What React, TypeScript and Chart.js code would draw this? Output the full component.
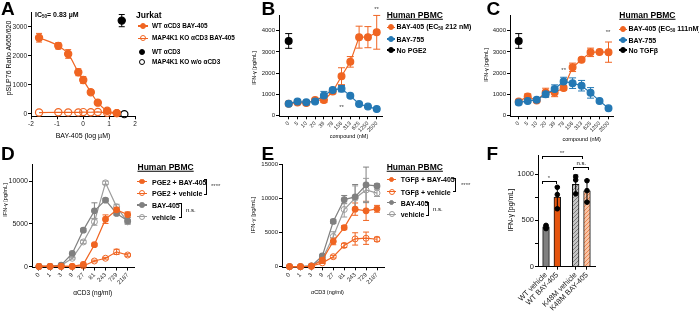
import React, { useEffect, useRef } from 'react';
import { Chart, registerables } from 'chart.js';

// ---------------- data ----------------
// Panel A: Jurkat, pSLP76 vs BAY-405 (log µM)
const A_X_TICKS = [-2, -1, 0, 1, 2];
const A_Y_TICKS = [0, 1000, 2000, 3000];
const A_WT_X = [-1.69, -0.95, -0.57, -0.18, 0.01, 0.3, 0.57, 0.93, 1.3];
const A_WT_Y = [2630, 2350, 2070, 1440, 1170, 750, 390, 110, 30];
const A_WT_ERR = [150, 110, 150, 120, 120, 80, 40, 20, 10];
const A_KO_X = [-1.69, -0.95, -0.57, -0.18, 0.01, 0.3, 0.57, 0.93, 1.3];
const A_KO_Y = [50, 60, 55, 55, 65, 60, 70, 40, 30];
const A_WTCTRL_X = [1.49];
const A_WTCTRL_Y = [3220];
const A_WTCTRL_ERR = [210];
const A_KONOSTIM_X = [1.59];
const A_KONOSTIM_Y = [-5];

// Panel B / C: IFN-γ vs compound (nM)
const BC_X_LABELS = ['0', '5', '10', '20', '39', '78', '156', '313', '625', '1250', '2500'];
const BC_Y_TICKS = [0, 1000, 2000, 3000, 4000];
const B_BAY405 = [550, 600, 580, 720, 720, 1120, 1850, 2530, 3700, 3700, 3930];
const B_BAY405_ERR = [60, 80, 100, 80, 120, 100, 400, 250, 520, 500, 800];
const B_BAY755 = [550, 650, 610, 650, 930, 1200, 1260, 920, 530, 410, 290];
const B_BAY755_ERR = [50, 80, 60, 60, 200, 80, 150, 60, 40, 40, 30];
const B_NOPGE2 = [3520];
const B_NOPGE2_ERR = [350];
const C_BAY405 = [650, 890, 700, 1080, 1080, 1290, 2270, 2630, 2980, 3000, 2990];
const C_BAY405_ERR = [80, 120, 80, 200, 200, 100, 200, 80, 200, 60, 480];
const C_BAY755 = [600, 680, 730, 1000, 1240, 1600, 1520, 1400, 1060, 680, 330];
const C_BAY755_ERR = [100, 60, 60, 150, 200, 200, 250, 250, 250, 60, 40];
const C_NOTGF = [3520];
const C_NOTGF_ERR = [350];

// Panel D / E: IFN-γ vs αCD3 (ng/ml)
const DE_X_LABELS = ['0', '1', '3', '9', '27', '81', '243', '729', '2187'];
const D_Y_TICKS = [0, 5000, 10000];
const D_PGE2_BAY = [50, 50, 50, 50, 280, 2580, 5560, 6650, 6100];
const D_PGE2_BAY_ERR = [0, 0, 0, 0, 80, 150, 500, 300, 300];
const D_PGE2_VEH = [50, 50, 50, 50, 100, 680, 1000, 1750, 1380];
const D_PGE2_VEH_ERR = [0, 0, 0, 0, 0, 100, 100, 300, 150];
const D_BAY = [50, 50, 200, 1560, 4280, 6530, 7780, 6230, 5370];
const D_BAY_ERR = [0, 0, 0, 100, 200, 940, 200, 200, 400];
const D_VEH = [50, 50, 150, 1000, 2900, 5250, 9800, 7000, 5250];
const D_VEH_ERR = [0, 0, 0, 100, 200, 400, 200, 300, 200];
const E_Y_TICKS = [0, 5000, 10000, 15000];
const E_TGF_BAY = [0, 0, 50, 950, 3700, 5700, 8400, 8150, 8450];
const E_TGF_BAY_ERR = [0, 0, 0, 100, 500, 300, 900, 1400, 500];
const E_TGF_VEH = [0, 0, 50, 550, 1450, 3100, 4050, 4150, 4000];
const E_TGF_VEH_ERR = [0, 0, 0, 100, 200, 300, 900, 900, 300];
const E_BAY = [0, 0, 100, 1550, 6600, 9800, 10200, 11950, 11800];
const E_BAY_ERR = [0, 0, 0, 200, 300, 600, 1800, 2600, 300];
const E_VEH = [0, 0, 100, 1100, 4400, 8350, 10000, 11200, 10750];
const E_VEH_ERR = [0, 0, 0, 200, 700, 1100, 1800, 1700, 500];

// Panel F: bars
const F_LABELS = ['WT vehicle', 'WT BAY-405', 'K48M vehicle', 'K48M BAY-405'];
const F_MEAN = [430, 750, 890, 820];
const F_SD = [20, 115, 100, 115];
const F_REPS = [
  [411, 446, 428],
  [857, 778, 625],
  [936, 971, 786],
  [928, 821, 696],
];
const F_Y_TICKS = [0, 250, 500, 750, 1000];

// ---------------- styles / layout ----------------
const ORANGE = '#F06522';
const ORANGE_D = '#E5540E';
const BLUE = '#2478B4';
const GRAY = '#808080';
const LGRAY = '#9C9C9C';
const FONT = "'Liberation Sans', Arial, Helvetica, sans-serif";
// x slots for the bar groups in F (layout, gap between WT and K48M pairs)
const F_SLOTS = [0, 1, 2.63, 3.63];

type Box = { x: number; y: number; w: number; h: number; l: number; t: number; r: number; b: number };
const A_BOX: Box = { x: 0, y: 0, w: 142, h: 132, l: 31, t: 12.5, r: 135, b: 116.3 };
const B_BOX: Box = { x: 255, y: 0, w: 130, h: 140, l: 279, t: 15, r: 382, b: 116.3 };
const C_BOX: Box = { x: 486, y: 0, w: 130, h: 140, l: 510, t: 15, r: 613, b: 116.3 };
const D_BOX: Box = { x: 0, y: 150, w: 137, h: 140, l: 32, t: 164, r: 134, b: 267.5 };
const E_BOX: Box = { x: 250, y: 150, w: 137, h: 140, l: 282, t: 164, r: 384, b: 267.3 };
const F_BOX: Box = { x: 505, y: 150, w: 93, h: 163, l: 538, t: 155, r: 595, b: 266.7 };

// ---------------- chart helpers ----------------
function drawErrors(chart: any) {
  const ctx = chart.ctx;
  const ys = chart.scales.y;
  chart.data.datasets.forEach((ds: any, i: number) => {
    const errs = ds.errors;
    if (!errs) return;
    const meta = chart.getDatasetMeta(i);
    ctx.save();
    ctx.strokeStyle = ds.errColor || ds.borderColor;
    ctx.lineWidth = 1;
    const cap = ds.cap ?? 3;
    meta.data.forEach((el: any, j: number) => {
      const e = errs[j];
      if (!e) return;
      const d = ds.data[j];
      const v = typeof d === 'number' ? d : d.y;
      const x = el.x;
      const y1 = ys.getPixelForValue(v + e);
      const y2 = ys.getPixelForValue(v - e);
      ctx.beginPath();
      ctx.moveTo(x, y1); ctx.lineTo(x, y2);
      ctx.moveTo(x - cap, y1); ctx.lineTo(x + cap, y1);
      ctx.moveTo(x - cap, y2); ctx.lineTo(x + cap, y2);
      ctx.stroke();
    });
    ctx.restore();
  });
}
const errorBars = {
  id: 'errbars',
  beforeDatasetsDraw(chart: any, _a: any, opts: any) { if (!opts || !opts.after) drawErrors(chart); },
  afterDatasetsDraw(chart: any, _a: any, opts: any) { if (opts && opts.after) drawErrors(chart); },
};
Chart.register(...registerables, errorBars);
Chart.defaults.font.family = FONT;

type AxisSpec = { min: number; max: number; ticks: number[]; label: (v: number) => string; size: number; rot?: number };

function axis(spec: AxisSpec, horizontal: boolean, box: Box) {
  return {
    type: 'linear',
    min: spec.min,
    max: spec.max,
    offset: false,
    afterBuildTicks: (s: any) => { s.ticks = spec.ticks.map((v) => ({ value: v })); },
    afterFit: (s: any) => {
      if (horizontal) s.height = box.y + box.h - box.b;
      else s.width = box.l - box.x;
    },
    ticks: {
      callback: (v: any) => spec.label(Number(v)),
      font: { size: spec.size, family: FONT },
      color: '#222',
      padding: 1,
      autoSkip: false,
      minRotation: spec.rot || 0,
      maxRotation: spec.rot || 0,
    },
    grid: { display: true, drawOnChartArea: false, drawTicks: true, tickLength: 3, color: '#000', lineWidth: 1, offset: false },
    border: { display: true, color: '#000', width: 1 },
  };
}

function opts(box: Box, x: AxisSpec, y: AxisSpec, after = false) {
  return {
    responsive: false,
    maintainAspectRatio: false,
    animation: false,
    events: [],
    layout: { autoPadding: false, padding: { left: 0, top: box.t - box.y, right: box.x + box.w - box.r, bottom: 0 } },
    plugins: { legend: { display: false }, tooltip: { enabled: false }, errbars: { after } },
    scales: { x: axis(x, true, box), y: axis(y, false, box) },
  };
}

function ds(xs: number[], ys: number[], o: any) {
  return {
    data: xs.map((x, i) => ({ x, y: ys[i] })),
    borderColor: o.color,
    backgroundColor: o.color,
    pointBackgroundColor: o.open ? 'rgba(255,255,255,0)' : o.color,
    pointBorderColor: o.color,
    pointBorderWidth: o.pbw ?? 1.2,
    pointRadius: o.r ?? 3,
    pointHoverRadius: o.r ?? 3,
    borderWidth: o.bw ?? 1.2,
    showLine: !o.noLine,
    tension: o.curve ? 0.4 : 0,
    cubicInterpolationMode: o.curve ? 'monotone' : 'default',
    clip: false,
    fill: false,
    errors: o.err,
    cap: o.cap ?? 3,
    errColor: o.errColor,
  };
}
const idx = (arr: any[]) => arr.map((_, i) => i);
const num = (v: number) => String(v);

function hatch(bg: string, fg: string) {
  const c = document.createElement('canvas');
  c.width = 4; c.height = 4;
  const g = c.getContext('2d')!;
  g.fillStyle = bg; g.fillRect(0, 0, 4, 4);
  g.strokeStyle = fg; g.lineWidth = 1;
  g.beginPath(); g.moveTo(0, 4); g.lineTo(4, 0); g.moveTo(-1, 1); g.lineTo(1, -1); g.moveTo(3, 5); g.lineTo(5, 3); g.stroke();
  return g.createPattern(c, 'repeat');
}

// ---------------- chart configs ----------------
const makeA = () => ({
  type: 'line',
  data: {
    datasets: [
      ds(A_WT_X, A_WT_Y, { color: ORANGE, r: 3.6, err: A_WT_ERR, curve: true }),
      ds(A_KO_X, A_KO_Y, { color: ORANGE, r: 3.6, open: true }),
      ds(A_WTCTRL_X, A_WTCTRL_Y, { color: '#000', r: 3.6, err: A_WTCTRL_ERR, noLine: true }),
      ds(A_KONOSTIM_X, A_KONOSTIM_Y, { color: '#000', r: 3.6, open: true, noLine: true }),
    ],
  },
  options: opts(
    A_BOX,
    { min: -2, max: 2, ticks: A_X_TICKS, label: num, size: 6.5 },
    { min: -80, max: 3500, ticks: A_Y_TICKS, label: num, size: 6.5 },
  ),
});

const makeBC = (box: Box, bay405: number[], e405: number[], bay755: number[], e755: number[], ctrl: number[], ectrl: number[], xmin: number, xmax: number) => ({
  type: 'line',
  data: {
    datasets: [
      ds(idx(BC_X_LABELS), bay755, { color: BLUE, r: 3.4, err: e755, cap: 3.5 }),
      ds(idx(BC_X_LABELS), bay405, { color: ORANGE, r: 3.4, err: e405, cap: 3.5 }),
      ds([0], ctrl, { color: '#000', r: 3.4, err: ectrl, noLine: true, cap: 3.5 }),
    ],
  },
  options: opts(
    box,
    { min: xmin, max: xmax, ticks: idx(BC_X_LABELS), label: (v) => BC_X_LABELS[v], size: 5.5, rot: 45 },
    { min: -50, max: 4750, ticks: BC_Y_TICKS, label: num, size: 6 },
  ),
});

const makeDE = (box: Box, s1: number[], e1: number[], s2: number[], e2: number[], s3: number[], e3: number[], s4: number[], e4: number[], xmin: number, xmax: number, ymin: number, ymax: number, yticks: number[], ysize: number) => ({
  type: 'line',
  data: {
    datasets: [
      ds(idx(DE_X_LABELS), s1, { color: ORANGE, r: 2.8, err: e1 }),
      ds(idx(DE_X_LABELS), s2, { color: ORANGE, r: 3, open: true, pbw: 1, err: e2 }),
      ds(idx(DE_X_LABELS), s3, { color: GRAY, r: 2.8, err: e3 }),
      ds(idx(DE_X_LABELS), s4, { color: LGRAY, r: 3, open: true, pbw: 1, err: e4 }),
    ],
  },
  options: opts(
    box,
    { min: xmin, max: xmax, ticks: idx(DE_X_LABELS), label: (v) => DE_X_LABELS[v], size: 6, rot: 45 },
    { min: ymin, max: ymax, ticks: yticks, label: num, size: ysize },
  ),
});

const makeF = () => ({
  type: 'bar',
  data: {
    datasets: [
      {
        type: 'scatter',
        data: F_REPS.flatMap((reps, i) => reps.map((v) => ({ x: F_SLOTS[i], y: v }))),
        pointRadius: 2.3,
        pointHoverRadius: 2.3,
        backgroundColor: '#000',
        borderColor: '#000',
        clip: false,
      },
      {
        type: 'bar',
        data: F_MEAN.map((m, i) => ({ x: F_SLOTS[i], y: m })),
        backgroundColor: [GRAY, ORANGE_D, hatch('#c4c4c4', '#7a7a7a'), hatch('#f9c4a6', '#ec8650')],
        borderColor: '#111',
        borderWidth: 1,
        barThickness: 6.7,
        errors: F_SD,
        errColor: '#000',
        cap: 2.5,
      },
    ],
  },
  options: opts(
    F_BOX,
    { min: -0.71, max: 4.34, ticks: F_SLOTS, label: (v) => F_LABELS[F_SLOTS.indexOf(v)], size: 7.5, rot: 45 },
    { min: 0, max: 1200, ticks: F_Y_TICKS, label: (v) => (v % 500 === 0 ? String(v) : ''), size: 7.5 },
    true,
  ),
});

// ---------------- components ----------------
function ChartCanvas({ box, make }: { box: Box; make: () => any }) {
  const ref = useRef<HTMLCanvasElement>(null);
  useEffect(() => {
    const chart = new Chart(ref.current as HTMLCanvasElement, make());
    return () => chart.destroy();
  }, []);
  return (
    <canvas
      ref={ref}
      width={box.w}
      height={box.h}
      style={{ position: 'absolute', left: box.x, top: box.y, width: box.w, height: box.h }}
    />
  );
}

function Txt(p: { x: number; y: number; size: number; bold?: boolean; center?: boolean; rot?: number; tl?: boolean; underline?: boolean; color?: string; children: any }) {
  let transform = 'translateY(-50%)';
  if (p.center) transform = `translate(-50%,-50%)${p.rot ? ` rotate(${p.rot}deg)` : ''}`;
  if (p.tl) transform = 'none';
  return (
    <div
      style={{
        position: 'absolute',
        left: p.x,
        top: p.y,
        fontSize: p.size,
        fontWeight: p.bold ? 700 : 400,
        lineHeight: 1,
        whiteSpace: 'nowrap',
        fontFamily: FONT,
        color: p.color || '#000',
        transform,
        textDecoration: p.underline ? 'underline' : undefined,
      }}
    >
      {p.children}
    </div>
  );
}

function Mk({ x, y, color, open, line = 0, r = 3 }: { x: number; y: number; color: string; open?: boolean; line?: number; r?: number }) {
  return (
    <>
      {line > 0 && (
        <div style={{ position: 'absolute', left: x - line / 2, top: y - 0.6, width: line, height: 1.2, background: color }} />
      )}
      <div
        style={{
          position: 'absolute',
          left: x - r,
          top: y - r,
          width: 2 * r,
          height: 2 * r,
          borderRadius: '50%',
          boxSizing: 'border-box',
          border: `1.2px solid ${color}`,
          background: open ? 'transparent' : color,
        }}
      />
    </>
  );
}

// legend bracket "]" : vertical at x from y1 to y2
function LBr({ x, y1, y2 }: { x: number; y1: number; y2: number }) {
  return (
    <div
      style={{
        position: 'absolute',
        left: x - 3,
        top: y1,
        width: 3,
        height: y2 - y1,
        boxSizing: 'border-box',
        borderTop: '1px solid #000',
        borderRight: '1px solid #000',
        borderBottom: '1px solid #000',
      }}
    />
  );
}
// significance bracket over bars
function SBr({ x1, x2, y }: { x1: number; x2: number; y: number }) {
  return (
    <div
      style={{
        position: 'absolute',
        left: x1,
        top: y,
        width: x2 - x1,
        height: 3,
        boxSizing: 'border-box',
        borderTop: '1px solid #000',
        borderLeft: '1px solid #000',
        borderRight: '1px solid #000',
      }}
    />
  );
}

const Sub = ({ children }: { children: any }) => (
  <span style={{ fontSize: '0.65em', verticalAlign: '-0.2em' }}>{children}</span>
);

export default function App() {
  const L = 7; // legend font size
  const LA = 6.4; // legend font size, panel A
  return (
    <div style={{ position: 'absolute', left: 0, top: 0, width: 699, height: 313, overflow: 'hidden', background: '#fff', fontFamily: FONT }}>
      <ChartCanvas box={A_BOX} make={makeA} />
      <ChartCanvas box={B_BOX} make={() => makeBC(B_BOX, B_BAY405, B_BAY405_ERR, B_BAY755, B_BAY755_ERR, B_NOPGE2, B_NOPGE2_ERR, -1.1, 10.6)} />
      <ChartCanvas box={C_BOX} make={() => makeBC(C_BOX, C_BAY405, C_BAY405_ERR, C_BAY755, C_BAY755_ERR, C_NOTGF, C_NOTGF_ERR, -0.97, 10.5)} />
      <ChartCanvas box={D_BOX} make={() => makeDE(D_BOX, D_PGE2_BAY, D_PGE2_BAY_ERR, D_PGE2_VEH, D_PGE2_VEH_ERR, D_BAY, D_BAY_ERR, D_VEH, D_VEH_ERR, -0.63, 8.57, -80, 12000, D_Y_TICKS, 7)} />
      <ChartCanvas box={E_BOX} make={() => makeDE(E_BOX, E_TGF_BAY, E_TGF_BAY_ERR, E_TGF_VEH, E_TGF_VEH_ERR, E_BAY, E_BAY_ERR, E_VEH, E_VEH_ERR, -0.69, 8.64, -100, 15000, E_Y_TICKS, 6)} />
      <ChartCanvas box={F_BOX} make={makeF} />

      {/* panel letters */}
      <Txt x={1} y={-0.8} size={19} bold tl>A</Txt>
      <Txt x={261.5} y={-0.8} size={19} bold tl>B</Txt>
      <Txt x={486.5} y={-0.8} size={19} bold tl>C</Txt>
      <Txt x={1} y={144.2} size={19} bold tl>D</Txt>
      <Txt x={261.5} y={144.2} size={19} bold tl>E</Txt>
      <Txt x={486.5} y={144.2} size={19} bold tl>F</Txt>

      {/* Panel A */}
      <Txt x={35} y={15} size={7} bold>IC<Sub>50</Sub>= 0.83 µM</Txt>
      <Txt x={83} y={135} size={7} center>BAY-405 (log µM)</Txt>
      <Txt x={7.5} y={58} size={7} center rot={-90}>pSLP76 Ratio A665/620</Txt>
      <Txt x={136} y={15} size={8.5} bold>Jurkat</Txt>
      <Mk x={143} y={26} color={ORANGE} line={10} r={3.2} />
      <Txt x={152} y={26} size={LA} bold>WT αCD3 BAY-405</Txt>
      <Mk x={143} y={38.3} color={ORANGE} line={10} r={3.2} open />
      <Txt x={152} y={38.3} size={LA} bold>MAP4K1 KO αCD3 BAY-405</Txt>
      <Mk x={142} y={51.7} color="#000" r={3.2} />
      <Txt x={152} y={51.7} size={LA} bold>WT αCD3</Txt>
      <Mk x={142} y={61.7} color="#000" r={3.2} open />
      <Txt x={152} y={61.7} size={LA} bold>MAP4K1 KO w/o αCD3</Txt>

      {/* Panel B */}
      <Txt x={255} y={68} size={5.5} center rot={-90}>IFN-γ [pg/mL]</Txt>
      <Txt x={349} y={137} size={5.5} center>compound (nM)</Txt>
      <Txt x={341.5} y={107} size={6} center color="#444">**</Txt>
      <Txt x={376.5} y={8.5} size={6} center color="#444">**</Txt>
      <Txt x={386.7} y={15} size={8.5} bold underline>Human PBMC</Txt>
      <Mk x={390.5} y={27.3} color={ORANGE} line={8} r={3} />
      <Txt x={396.5} y={27.3} size={L} bold>BAY-405 (EC<Sub>50</Sub> 212 nM)</Txt>
      <Mk x={390.5} y={39} color={BLUE} line={8} r={3} />
      <Txt x={396.5} y={39} size={L} bold>BAY-755</Txt>
      <Mk x={390.5} y={50} color="#000" line={8} r={3} />
      <Txt x={396.5} y={50} size={L} bold>No PGE2</Txt>

      {/* Panel C */}
      <Txt x={487} y={65} size={5.5} center rot={-90}>IFN-γ [pg/mL]</Txt>
      <Txt x={581.7} y={140} size={5.5} center>compound (nM)</Txt>
      <Txt x={563.7} y={70} size={6} center color="#444">**</Txt>
      <Txt x={608} y={32} size={6} center color="#444">**</Txt>
      <Txt x={619.3} y={15} size={8.5} bold underline>Human PBMC</Txt>
      <Mk x={623} y={29.3} color={ORANGE} line={8} r={3} />
      <Txt x={628.5} y={29.3} size={L} bold>BAY-405 (EC<Sub>50</Sub> 111nM)</Txt>
      <Mk x={623} y={40} color={BLUE} line={8} r={3} />
      <Txt x={628.5} y={40} size={L} bold>BAY-755</Txt>
      <Mk x={623} y={50} color="#000" line={8} r={3} />
      <Txt x={628.5} y={50} size={L} bold>No TGFβ</Txt>

      {/* Panel D */}
      <Txt x={6} y={200} size={5.5} center rot={-90}>IFN-γ [pg/mL]</Txt>
      <Txt x={92.7} y={292.7} size={6.5} center>αCD3 (ng/ml)</Txt>
      <Txt x={137.5} y={166.7} size={8.5} bold underline>Human PBMC</Txt>
      <Mk x={142} y={181.7} color={ORANGE} line={10} r={2.8} />
      <Txt x={152} y={181.7} size={L} bold>PGE2 + BAY-405</Txt>
      <Mk x={142} y={193.3} color={ORANGE} line={10} r={3} open />
      <Txt x={152} y={193.3} size={L} bold>PGE2 + vehicle</Txt>
      <Mk x={142} y={205} color={GRAY} line={10} r={2.8} />
      <Txt x={152} y={205} size={L} bold>BAY-405</Txt>
      <Mk x={142} y={216.7} color={LGRAY} line={10} r={3} open />
      <Txt x={152} y={216.7} size={L} bold>vehicle</Txt>
      <LBr x={207} y1={179} y2={195} />
      <Txt x={211} y={186} size={6} color="#444">****</Txt>
      <LBr x={181.7} y1={203} y2={218.3} />
      <Txt x={186} y={210} size={6}>n.s.</Txt>

      {/* Panel E */}
      <Txt x={253.3} y={215} size={6} center rot={-90}>IFN-γ [pg/mL]</Txt>
      <Txt x={327.5} y={293.3} size={5.5} center>αCD3 (ng/ml)</Txt>
      <Txt x={386.7} y={167.3} size={8.5} bold underline>Human PBMC</Txt>
      <Mk x={391.5} y={179.3} color={ORANGE} line={9} r={2.8} />
      <Txt x={400.7} y={179.3} size={L} bold>TGFβ + BAY-405</Txt>
      <Mk x={391.5} y={191.7} color={ORANGE} line={9} r={3} open />
      <Txt x={400.7} y={191.7} size={L} bold>TGFβ + vehicle</Txt>
      <Mk x={391.5} y={202.7} color={GRAY} line={9} r={2.8} />
      <Txt x={400.7} y={202.7} size={L} bold>BAY-405</Txt>
      <Mk x={391.5} y={214.3} color={LGRAY} line={9} r={3} open />
      <Txt x={400.7} y={214.3} size={L} bold>vehicle</Txt>
      <LBr x={456} y1={178.3} y2={191.7} />
      <Txt x={461} y={185} size={6} color="#444">****</Txt>
      <LBr x={429} y1={201.7} y2={216} />
      <Txt x={433} y={209} size={6}>n.s.</Txt>

      {/* Panel F */}
      <Txt x={510} y={210} size={7} center rot={-90}>IFN-γ [pg/mL]</Txt>
      <SBr x1={541.7} x2={583.3} y={156} />
      <Txt x={562} y={152.5} size={6} center color="#444">**</Txt>
      <SBr x1={541.7} x2={556.7} y={180.7} />
      <Txt x={549} y={177.5} size={6} center color="#444">*</Txt>
      <SBr x1={573.3} x2={589.3} y={166.7} />
      <Txt x={581.3} y={162.5} size={6} center>n.s.</Txt>
    </div>
  );
}
